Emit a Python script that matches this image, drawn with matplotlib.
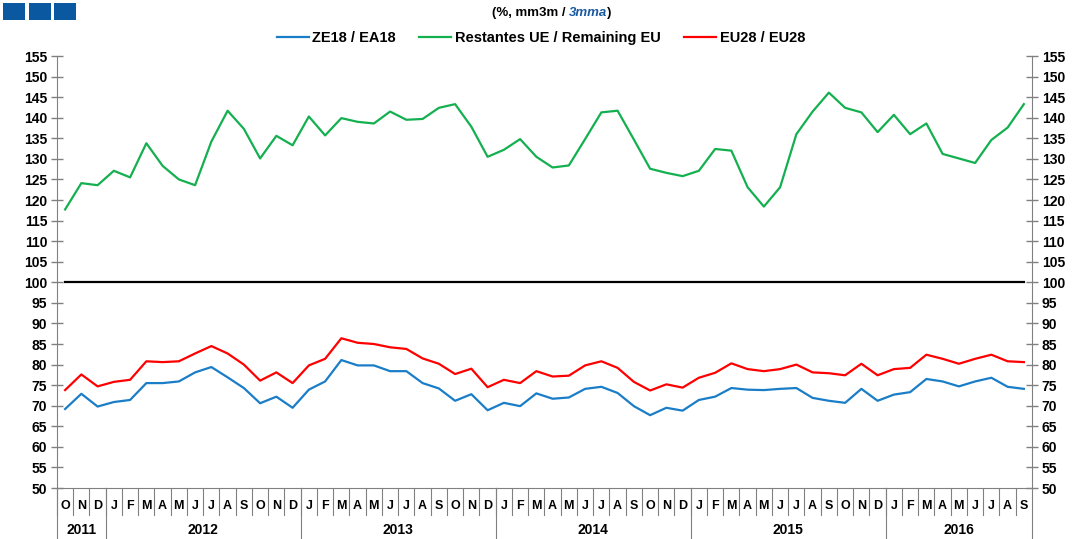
import matplotlib
matplotlib.use('Agg')
import matplotlib.pyplot as plt
import matplotlib.transforms as mtransforms
from matplotlib.patches import Rectangle

plt.rcParams['font.family'] = ['Liberation Sans', 'DejaVu Sans']
plt.rcParams['font.weight'] = 'bold'

# Данные (окт. 2011 - сен. 2016)
months = ['O', 'N', 'D'] + ['J', 'F', 'M', 'A', 'M', 'J', 'J', 'A', 'S', 'O', 'N', 'D'] * 4 + \
         ['J', 'F', 'M', 'A', 'M', 'J', 'J', 'A', 'S']
years = ['2011', '2012', '2013', '2014', '2015', '2016']
months_per_year = [3, 12, 12, 12, 12, 9]

ea18 = [69.2, 72.9, 69.8, 70.9, 71.4, 75.5, 75.5, 75.9, 78.1, 79.4, 76.9, 74.3, 70.6, 72.2, 69.5,
        73.9, 75.9, 81.1, 79.8, 79.8, 78.4, 78.4, 75.5, 74.2, 71.2, 72.8, 68.9, 70.7, 69.9, 73.0,
        71.7, 72.0, 74.1, 74.6, 73.1, 69.9, 67.7, 69.5, 68.8, 71.4, 72.2, 74.3, 73.9, 73.8, 74.1,
        74.3, 71.9, 71.2, 70.7, 74.1, 71.2, 72.7, 73.3, 76.5, 75.9, 74.7, 75.9, 76.8, 74.6, 74.1]
remaining_eu = [117.7, 124.1, 123.6, 127.1, 125.5, 133.8, 128.3, 125.0, 123.6, 134.2, 141.7, 137.3,
                130.1, 135.6, 133.3, 140.3, 135.7, 139.9, 139.0, 138.6, 141.5, 139.5, 139.7, 142.4,
                143.3, 137.8, 130.5, 132.2, 134.8, 130.5, 127.9, 128.4, 134.8, 141.3, 141.7, 134.7,
                127.6, 126.6, 125.8, 127.1, 132.4, 132.0, 123.1, 118.4, 123.1, 136.0, 141.5, 146.1,
                142.4, 141.3, 136.5, 140.7, 136.0, 138.6, 131.2, 130.1, 129.0, 134.6, 137.6, 143.3]
eu28 = [73.8, 77.6, 74.7, 75.8, 76.3, 80.8, 80.6, 80.8, 82.7, 84.5, 82.7, 80.0, 76.1, 78.1, 75.5,
        79.8, 81.4, 86.4, 85.3, 85.0, 84.2, 83.8, 81.5, 80.2, 77.7, 79.0, 74.5, 76.3, 75.5, 78.4,
        77.1, 77.3, 79.8, 80.8, 79.2, 75.8, 73.7, 75.2, 74.4, 76.8, 78.0, 80.3, 78.9, 78.4, 78.9,
        80.0, 78.1, 77.9, 77.4, 80.2, 77.4, 78.9, 79.2, 82.4, 81.4, 80.2, 81.4, 82.4, 80.8, 80.6]
baseline = [100] * len(months)

x = list(range(len(months)))

fig = plt.figure(figsize=(10.75, 5.39), dpi=100)
ax = fig.add_axes([0.053, 0.0946, 0.907, 0.8015])

ax.plot(x, baseline, color='black', linewidth=1.6)
l1, = ax.plot(x, ea18, color='#1a7dc7', linewidth=1.6, label='ZE18 / EA18')
l2, = ax.plot(x, remaining_eu, color='#14b050', linewidth=1.6, label='Restantes UE / Remaining EU')
l3, = ax.plot(x, eu28, color='#ff0000', linewidth=1.6, label='EU28 / EU28')

ax.set_xlim(-0.5, len(months) - 0.5)
ax.set_ylim(50, 155)
ax.set_yticks(range(50, 160, 5))
ax.set_xticks([])
ax.tick_params(axis='y', direction='inout', length=8, width=1, color='#808080',
               labelsize=10, left=True, right=True, labelleft=True, labelright=True, pad=3)
for lab in ax.get_yticklabels():
    lab.set_fontweight('bold')
ax.spines['top'].set_visible(False)
for s in ['left', 'right', 'bottom']:
    ax.spines[s].set_color('#808080')

# Подписи оси X: месяцы и годы
trans = mtransforms.blended_transform_factory(ax.transData, ax.transAxes)
for i, m in enumerate(months):
    ax.text(i, -0.042, m, transform=trans, ha='center', va='center', fontsize=9, fontweight='bold')
    ax.plot([i - 0.5, i - 0.5], [0, -0.0625], transform=trans, color='#808080', linewidth=0.8, clip_on=False)

start = 0
for y, n in zip(years, months_per_year):
    ax.text(start + (n - 1) / 2, -0.097, y, transform=trans, ha='center', va='center',
            fontsize=10, fontweight='bold')
    ax.plot([start - 0.5, start - 0.5], [0, -0.12], transform=trans, color='#808080', linewidth=0.8, clip_on=False)
    start += n
ax.plot([start - 0.5, start - 0.5], [0, -0.12], transform=trans, color='#808080', linewidth=0.8, clip_on=False)

# Легенда
fig.legend(handles=[l1, l2, l3], loc='center', bbox_to_anchor=(541 / 1075, 1 - 38 / 539), ncol=3,
           frameon=False, fontsize=10.5, handlelength=2.2, handletextpad=0.25, columnspacing=1.6)

# Подзаголовок
t_mid = fig.text(588 / 1075, 1 - 13 / 539, '3mma', ha='center', va='center', fontsize=9.5,
                 fontweight='bold', style='italic', color='#1a5aa0')
ax.annotate('(%, mm3m / ', xy=(0, 0), xycoords=t_mid, ha='right', va='bottom', fontsize=9.5,
            fontweight='bold', annotation_clip=False)
ax.annotate(')', xy=(1, 0), xycoords=t_mid, ha='left', va='bottom', fontsize=9.5,
            fontweight='bold', annotation_clip=False)

# Синие квадраты в левом верхнем углу
for k in range(3):
    fig.patches.append(Rectangle((3 + k * 25.5, 539 - 20), 22, 17, transform=None,
                                 facecolor='#0a58a0', edgecolor='none'))

plt.savefig('out.png', dpi=100)
